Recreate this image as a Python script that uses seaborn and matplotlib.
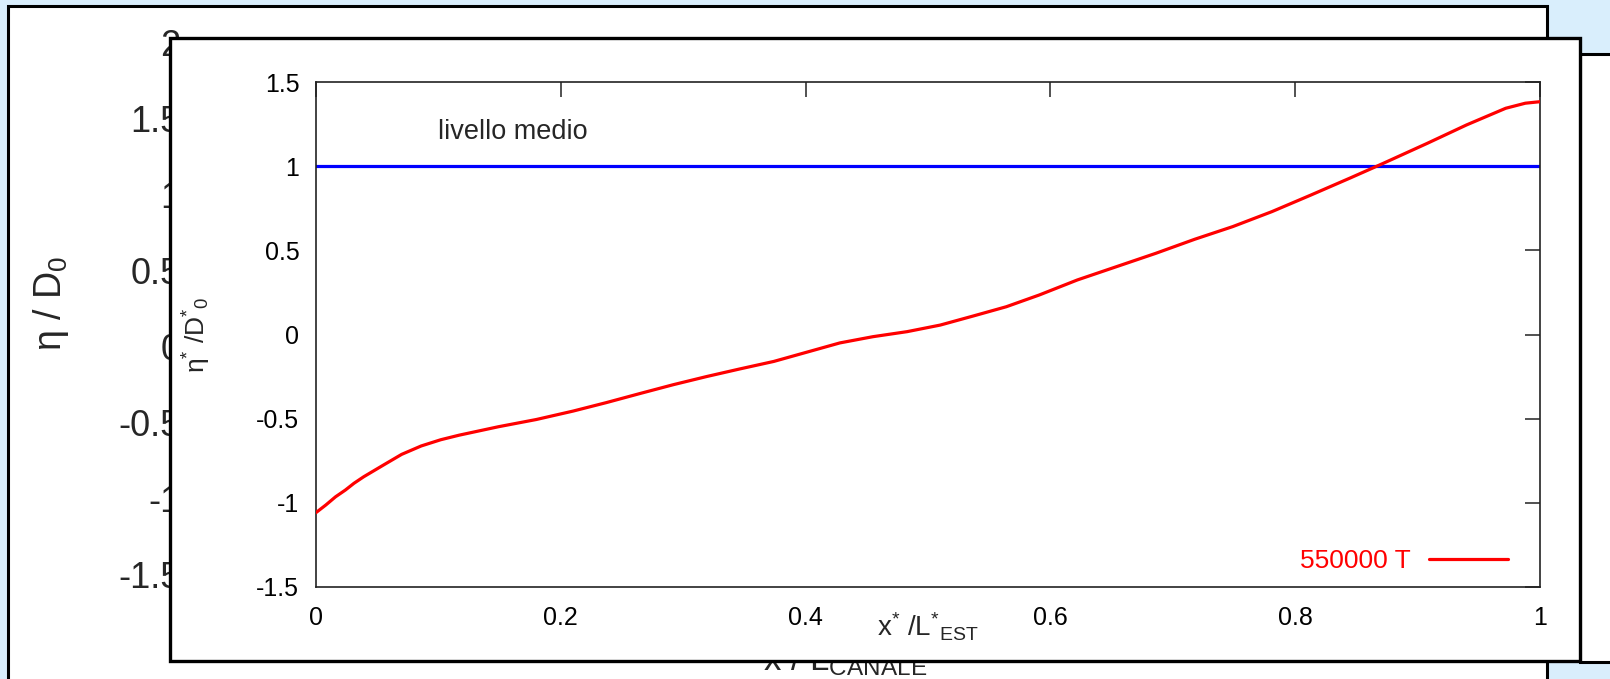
import numpy as np
import pandas as pd
import matplotlib
matplotlib.use("Agg")
import matplotlib.pyplot as plt
import seaborn as sns
from matplotlib.patches import Rectangle

# ---------------- data ----------------
x_est = [0.000, 0.008, 0.016, 0.024, 0.031, 0.039, 0.055, 0.070, 0.086, 0.102,
         0.117, 0.149, 0.180, 0.210, 0.237, 0.265, 0.292, 0.319, 0.346, 0.374,
         0.401, 0.428, 0.455, 0.483, 0.510, 0.537, 0.564, 0.591, 0.622, 0.654,
         0.686, 0.718, 0.749, 0.781, 0.813, 0.845, 0.872, 0.908, 0.940, 0.972,
         0.988, 1.000]
eta_star = [-1.058, -1.013, -0.964, -0.924, -0.884, -0.845, -0.776, -0.712, -0.662, -0.625,
            -0.598, -0.548, -0.505, -0.455, -0.405, -0.350, -0.298, -0.250, -0.205, -0.160,
            -0.105, -0.050, -0.013, 0.017, 0.056, 0.110, 0.165, 0.235, 0.324, 0.403,
            0.482, 0.566, 0.641, 0.730, 0.829, 0.930, 1.017, 1.136, 1.245, 1.344,
            1.374, 1.383]
mean_level = 1.0
series_label = "550000 T"
annotation = "livello medio"
front_yticks = [-1.5, -1, -0.5, 0, 0.5, 1, 1.5]
front_ytick_labels = ["-1.5", "-1", "-0.5", "0", "0.5", "1", "1.5"]
front_xticks = [0, 0.2, 0.4, 0.6, 0.8, 1.0]
front_xtick_labels = ["0", "0.2", "0.4", "0.6", "0.8", "1"]
back_yticks = [-1.5, -1, -0.5, 0, 0.5, 1, 1.5, 2]
back_ytick_labels = ["-1.5", "-1", "-0.5", "0", "0.5", "1", "1.5", "2"]

# ---------------- style ----------------
sns.set_theme(style="white")
plt.rcParams["font.family"] = ["Liberation Sans", "DejaVu Sans"]
plt.rcParams["mathtext.fontset"] = "custom"
plt.rcParams["mathtext.rm"] = "Liberation Sans"
plt.rcParams["mathtext.it"] = "Liberation Sans"
plt.rcParams["mathtext.bf"] = "Liberation Sans:bold"

W, H = 1610, 679
fig = plt.figure(figsize=(W / 100, H / 100), dpi=100)
fig.patch.set_facecolor("#d9eefc")


def px_axes(l, t, r, b):
    return [l / W, 1 - b / H, (r - l) / W, (b - t) / H]


# background slide frames
bg = fig.add_axes([0, 0, 1, 1], zorder=0)
bg.set_xlim(0, W)
bg.set_ylim(H, 0)
bg.axis("off")
bg.add_patch(Rectangle((8, 6), 1547 - 8, 740, fc="white", ec="black", lw=2.2))
bg.add_patch(Rectangle((1580, 54), 80, 662 - 54, fc="white", ec="black", lw=2.2))

# back chart (mostly hidden)
back = fig.add_axes(px_axes(200, 42, 1490, 651), zorder=1)
back.patch.set_visible(False)
back.set_ylim(-2, 2)
back.set_xlim(0, 1)
back.set_yticks(back_yticks)
back.set_yticklabels(back_ytick_labels)
back.set_xticks([])
back.tick_params(axis="y", length=0, pad=14, labelsize=26)
for s in back.spines.values():
    s.set_visible(False)
back.text(-0.1155, 0.57, "η / D$_{0}$", rotation=90, transform=back.transAxes,
          ha="center", va="center", fontsize=27)
back.text(0.5, -0.031, "x / L$_{\\mathrm{CANALE}}$", transform=back.transAxes,
          ha="center", va="baseline", fontsize=25)

# front panel
fp = fig.add_axes([0, 0, 1, 1], zorder=2)
fp.set_xlim(0, W)
fp.set_ylim(H, 0)
fp.axis("off")
fp.add_patch(Rectangle((170, 38), 1580 - 170, 661 - 38, fc="white", ec="black", lw=2.4))

# front chart
ax = fig.add_axes(px_axes(316, 82, 1540, 587), zorder=3)
ax.set_facecolor("white")
df = pd.DataFrame({"x": x_est, "eta": eta_star})
ax.axhline(mean_level, color="#0000ff", lw=2.3, zorder=2)
sns.lineplot(data=df, x="x", y="eta", ax=ax, color="#ff0000", lw=2.3,
             label=series_label, estimator=None, sort=False, zorder=3)

ax.set_xlim(0, 1)
ax.set_ylim(-1.5, 1.5)
ax.set_xticks(front_xticks)
ax.set_xticklabels(front_xtick_labels)
ax.set_yticks(front_yticks)
ax.set_yticklabels(front_ytick_labels)
ax.tick_params(direction="in", length=11, width=1.1, top=True, right=True,
               labelsize=18, color="#222222", labelcolor="black")
ax.tick_params(axis="x", pad=14)
ax.tick_params(axis="y", pad=12)
for s in ax.spines.values():
    s.set_color("#222222")
    s.set_linewidth(1.2)

ax.set_xlabel("")
ax.set_ylabel("")
ax.text(0.5, -0.078, "x$^{*}$ /L$^{*}$$_{\\mathrm{EST}}$", transform=ax.transAxes,
        ha="center", va="center", fontsize=20)
ax.text(-0.097, 0.5, "η$^{*}$ /D$^{*}$$_{0}$", transform=ax.transAxes, rotation=90,
        ha="center", va="center", fontsize=19)
ax.text(0.1, 1.203, annotation, ha="left", va="center", fontsize=19.5)

leg = ax.legend(loc="center right", bbox_to_anchor=(0.974, 0.0515), frameon=False,
                markerfirst=False, handlelength=3.0, handletextpad=0.7,
                borderpad=0, borderaxespad=0, fontsize=19, labelcolor="#ff0000")

fig.savefig("out.png", dpi=100, facecolor=fig.get_facecolor())
